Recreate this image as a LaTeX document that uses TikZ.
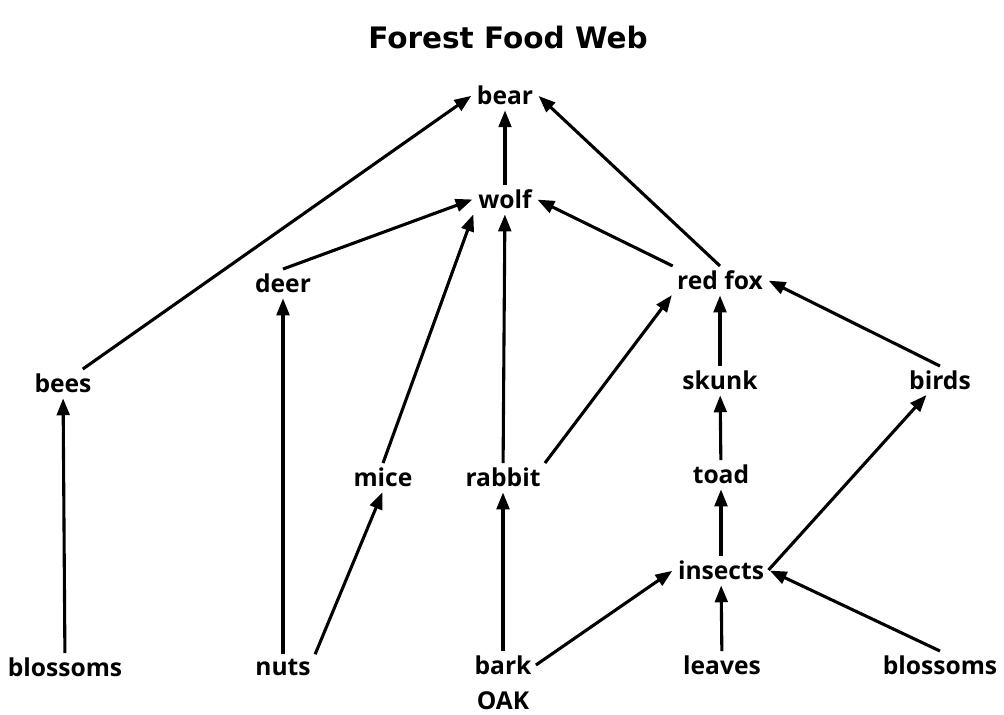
\documentclass[tikz,border=0pt]{standalone}
\usepackage{fontspec}
\setmainfont{Open Sans}
\newfontfamily\titlefont{DejaVu Sans}
\usetikzlibrary{arrows.meta, positioning}

\begin{document}
\begin{tikzpicture}[
    x=0.025cm, y=-0.025cm,
    animal/.style={inner sep=3pt, font=\fontsize{17.5}{19}\selectfont\bfseries},
    feeds/.style={-{Triangle[length=12pt, width=9pt]}, line width=2.2pt, shorten >=1pt},
]
\useasboundingbox (0,0) rectangle (1004,715);

% Title
\node[font=\titlefont\fontsize{21}{24}\selectfont\bfseries] (title) at (508,37) {Forest Food Web};

% Animals and plants
\node[animal] (bear) at (505,95) {bear};
\node[animal] (wolf) at (505,199) {wolf};
\node[animal] (deer) at (283,283) {deer};
\node[animal] (fox) at (720,280) {red fox};
\node[animal] (bees) at (63,383) {bees};
\node[animal] (skunk) at (720,380) {skunk};
\node[animal] (birds) at (940,380) {birds};
\node[animal] (mice) at (383,477) {mice};
\node[animal] (rabbit) at (503,477) {rabbit};
\node[animal] (toad) at (721,474) {toad};
\node[animal] (insects) at (721,570) {insects};
\node[animal] (blossomsL) at (65,667) {blossoms};
\node[animal] (nuts) at (283,667) {nuts};
\node[animal] (bark) at (503,665) {bark};
\node[animal] (oak) at (503,701) {OAK};
\node[animal] (leaves) at (722,665) {leaves};
\node[animal] (blossomsR) at (940,665) {blossoms};

% Arrows
\draw[feeds] (bees) -- (bear.west);
\draw[feeds] (wolf) -- (bear);
\draw[feeds] (fox.north) -- (bear.east);
\draw[feeds] (deer.north) -- (wolf.west);
\draw[feeds] (mice.north) -- (wolf.south west);
\draw[feeds] (rabbit) -- (wolf);
\draw[feeds] (fox.north west) -- (wolf.east);
\draw[feeds] (nuts) -- (deer);
\draw[feeds] (nuts.north east) -- (mice.south);
\draw[feeds] (rabbit.north east) -- (fox.south west);
\draw[feeds] (skunk) -- (fox);
\draw[feeds] (birds.north) -- (fox.east);
\draw[feeds] (blossomsL) -- (bees);
\draw[feeds] (bark) -- (rabbit);
\draw[feeds] (toad) -- (skunk);
\draw[feeds] (insects) -- (toad);
\draw[feeds] (insects.east) -- (birds);
\draw[feeds] (bark.east) -- (insects.west);
\draw[feeds] (leaves) -- (insects);
\draw[feeds] (blossomsR.north) -- (insects.east);

\end{tikzpicture}
\end{document}
